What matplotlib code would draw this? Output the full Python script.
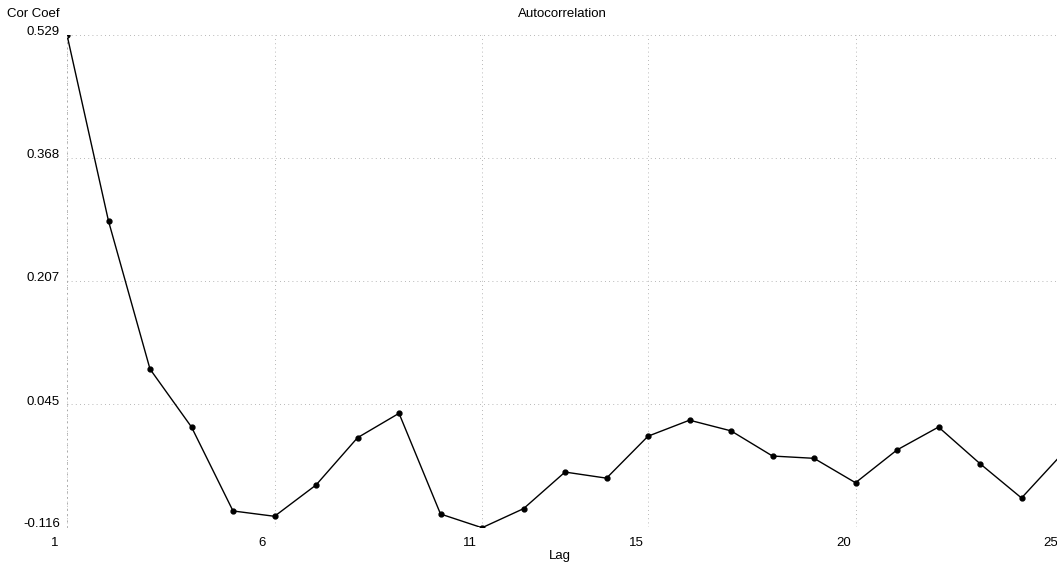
import matplotlib.pyplot as plt
import matplotlib.transforms as mtransforms

# Autocorrelation values
lags = list(range(1, 26))
coefs = [0.529, 0.285, 0.091, 0.015, -0.095, -0.102, -0.061, 0.001, 0.033,
         -0.099, -0.117, -0.092, -0.044, -0.052, 0.003, 0.024, 0.010, -0.023,
         -0.026, -0.058, -0.015, 0.015, -0.033, -0.078, -0.019]
y_ticks = [-0.116, 0.045, 0.207, 0.368, 0.529]
y_labels = ["-0.116", "0.045", "0.207", "0.368", "0.529"]
x_ticks = [1, 6, 11, 15, 20, 25]

plt.rcParams['font.family'] = ['Liberation Sans', 'DejaVu Sans']

fig = plt.figure(figsize=(10.57, 5.65), dpi=100)
ax = fig.add_axes([0.0634, 0.0673, 0.9423, 0.8708])

ax.plot(lags, coefs, color='black', linewidth=1.0, marker='o', markersize=3.5)

ax.set_xlim(1, 25)
ax.set_ylim(-0.116, 0.529)
ax.set_xticks(x_ticks)
ax.set_yticks(y_ticks)
ax.set_yticklabels(y_labels)

ax.grid(True, linestyle=(0, (1, 4)), color='#a0a0a0', linewidth=0.6)
for side in ['top', 'right', 'bottom']:
    ax.spines[side].set_visible(False)
ax.spines['left'].set_linestyle((0, (1, 6)))
ax.spines['left'].set_color('#a0a0a0')
ax.spines['left'].set_linewidth(0.6)

ax.tick_params(axis='both', length=0, labelsize=9.5, colors='black')
ax.tick_params(axis='y', pad=5)
ax.tick_params(axis='x', pad=7)

# tick labels in the original sit a little off their grid lines
x_shift = mtransforms.ScaledTranslation(-12 / 100, 0, fig.dpi_scale_trans)
for lbl in ax.get_xticklabels():
    lbl.set_transform(lbl.get_transform() + x_shift)
y_shift = mtransforms.ScaledTranslation(0, 4 / 100, fig.dpi_scale_trans)
for lbl in ax.get_yticklabels():
    lbl.set_transform(lbl.get_transform() + y_shift)

fig.text(0.532, 0.975, "Autocorrelation", ha='center', va='center', fontsize=9.5)
fig.text(0.007, 0.975, "Cor Coef", ha='left', va='center', fontsize=9.5)
fig.text(0.530, 0.016, "Lag", ha='center', va='center', fontsize=9.5)

fig.savefig("out.png", dpi=100, facecolor='white')
